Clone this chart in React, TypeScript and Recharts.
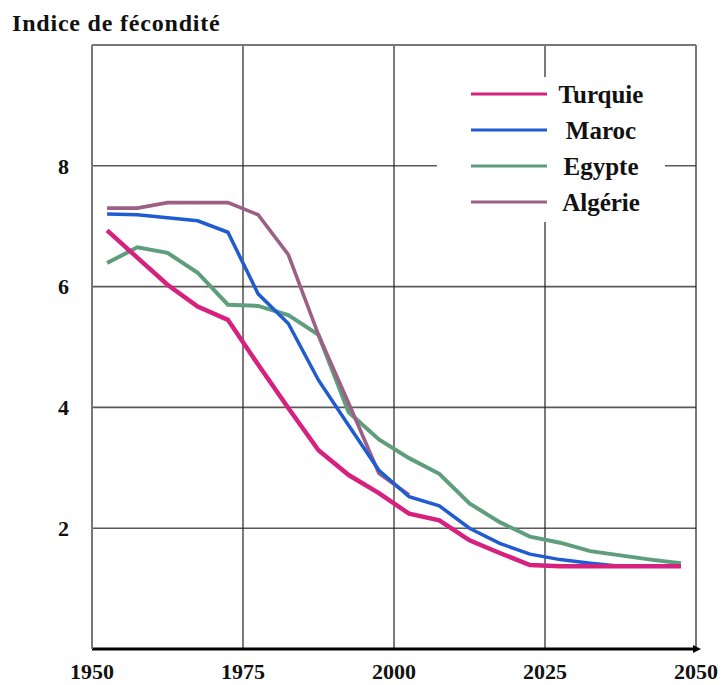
import React from "react";
import {
  CartesianGrid,
  Legend,
  Line,
  LineChart,
  ReferenceDot,
  ReferenceLine,
  XAxis,
  YAxis,
} from "recharts";

// mid-points of the five-year periods
const YEARS = [
  1952.5, 1957.5, 1962.5, 1967.5, 1972.5, 1977.5, 1982.5, 1987.5, 1992.5, 1997.5,
  2002.5, 2007.5, 2012.5, 2017.5, 2022.5, 2027.5, 2032.5, 2037.5, 2042.5, 2047.5,
];

const TURQUIE = [
  6.93, 6.48, 6.03, 5.67, 5.45, 4.71, 3.99, 3.29, 2.88, 2.58,
  2.24, 2.13, 1.8, 1.59, 1.39, 1.37, 1.37, 1.37, 1.37, 1.37,
];
const MAROC = [
  7.2, 7.19, 7.14, 7.09, 6.9, 5.88, 5.39, 4.45, 3.7, 2.96,
  2.52, 2.37, 2.0, 1.75, 1.57, 1.48, 1.42, 1.37, 1.37, 1.37,
];
const EGYPTE = [
  6.39, 6.65, 6.56, 6.23, 5.7, 5.68, 5.53, 5.2, 3.92, 3.47,
  3.16, 2.9, 2.41, 2.1, 1.86, 1.76, 1.62, 1.55, 1.48, 1.42,
];
const ALGERIE = [
  7.3, 7.3, 7.39, 7.39, 7.39, 7.19, 6.53, 5.2, 4.07, 2.91,
  2.55, null, null, null, null, null, null, null, null, null,
];

const X_TICKS = [1950, 1975, 2000, 2025, 2050];
const Y_TICKS = [2, 4, 6, 8];

const SERIES = [
  { key: "turquie", name: "Turquie", color: "#d6217e", width: 4.5 },
  { key: "maroc", name: "Maroc", color: "#1f5bd1", width: 3.5 },
  { key: "egypte", name: "Egypte", color: "#5f9e7c", width: 4 },
  { key: "algerie", name: "Algérie", color: "#9c5f86", width: 3.6 },
];

const FONT = "'Liberation Serif', 'Times New Roman', serif";

const data = YEARS.map((year, i) => ({
  year,
  turquie: TURQUIE[i],
  maroc: MAROC[i],
  egypte: EGYPTE[i],
  algerie: ALGERIE[i],
}));

function LegendBox() {
  return (
    <svg width={228} height={145} style={{ display: "block" }}>
      <rect x={0} y={0} width={228} height={145} fill="#fff" />
      {SERIES.map((s, i) => {
        const y = 17 + i * 36;
        return (
          <g key={s.key}>
            <line x1={34} x2={110} y1={y} y2={y} stroke={s.color} strokeWidth={3.2} />
            <text
              x={164}
              y={y + 9}
              textAnchor="middle"
              fontFamily={FONT}
              fontWeight="bold"
              fontSize={25}
              fill="#111"
            >
              {s.name}
            </text>
          </g>
        );
      })}
    </svg>
  );
}

const Arrow = (props: any) => {
  const { cx, cy } = props;
  return <path d={`M ${cx - 3} ${cy - 4} L ${cx + 5} ${cy} L ${cx - 3} ${cy + 4} Z`} fill="#000" />;
};

export default function App() {
  const tickStyle = { fontFamily: FONT, fontWeight: "bold", fontSize: 22, fill: "#111" };

  // draw order: Egypte, Algérie, Maroc, Turquie on top
  const drawOrder = ["egypte", "algerie", "maroc", "turquie"];

  return (
    <div style={{ position: "relative", width: 726, height: 685, background: "#fff" }}>
      <style>{"body{margin:0}"}</style>
      <div
        style={{
          position: "absolute",
          left: 12,
          top: 11,
          fontFamily: FONT,
          fontWeight: "bold",
          fontSize: 24,
          lineHeight: "24px",
          letterSpacing: 0.8,
          color: "#111",
          zIndex: 2,
        }}
      >
        Indice de fécondité
      </div>
      <LineChart
        width={726}
        height={685}
        data={data}
        margin={{ top: 45, right: 30, bottom: 0, left: 0 }}
      >
        <CartesianGrid vertical={false} stroke="#5a5a5a" strokeWidth={1.6} />
        <CartesianGrid horizontal={false} stroke="#222" strokeWidth={1.2} />
        <ReferenceLine y={10} stroke="#777" strokeWidth={2} />
        <XAxis
          dataKey="year"
          type="number"
          domain={[1950, 2050]}
          ticks={X_TICKS}
          interval={0}
          height={36}
          tickSize={0}
          tickMargin={14}
          axisLine={{ stroke: "#000", strokeWidth: 3 }}
          tickLine={false}
          tick={tickStyle}
        />
        <YAxis
          type="number"
          domain={[0, 10]}
          ticks={Y_TICKS}
          interval={0}
          width={92}
          tickSize={0}
          tickMargin={23}
          axisLine={{ stroke: "#777", strokeWidth: 2 }}
          tickLine={false}
          tick={tickStyle}
        />
        {drawOrder.map((k) => {
          const s = SERIES.find((d) => d.key === k)!;
          return (
            <Line
              key={s.key}
              type="linear"
              dataKey={s.key}
              name={s.name}
              stroke={s.color}
              strokeWidth={s.width}
              dot={false}
              activeDot={false}
              connectNulls={false}
              isAnimationActive={false}
            />
          );
        })}
        <ReferenceDot x={2050} y={0} r={4} ifOverflow="visible" shape={Arrow} />
        <Legend
          layout="vertical"
          align="center"
          verticalAlign="middle"
          content={() => <LegendBox />}
          wrapperStyle={{ left: 437, top: 77, width: 228, height: 145 }}
        />
      </LineChart>
    </div>
  );
}
